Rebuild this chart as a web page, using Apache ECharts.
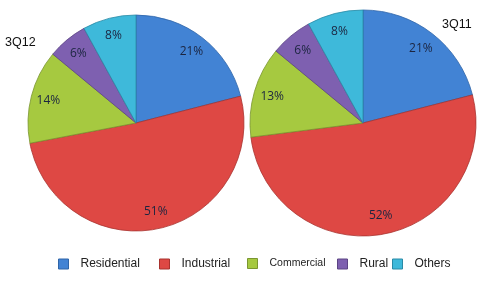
<!DOCTYPE html>
<html><head><meta charset="utf-8">
<script src="https://cdn.jsdelivr.net/npm/echarts@6/dist/echarts.min.js"></script>
<style>html,body{margin:0;padding:0;background:#fff}#c{width:488px;height:284px}</style>
</head><body><div id="c"></div>
<script>
const categories = ['Residential','Industrial','Commercial','Rural','Others'];
const values3Q12 = [21, 51, 14, 6, 8];
const values3Q11 = [21, 52, 13, 6, 8];
const titles = ['3Q12','3Q11'];
const colors = ['#4283d4','#de4844','#a6c940','#7e60b0','#3eb9da'];
const borders = ['#2f65a8','#a8322e','#7a9630','#5c4484','#2a8aa6'];

const chart = echarts.init(document.getElementById('c'), null, {renderer:'canvas'});
function mk(vals){ return vals.map((v,i)=>({name:categories[i], value:v,
  itemStyle:{color:colors[i], borderColor:borders[i], borderWidth:0.8}})); }
function lbl(vals){ return vals.map((v,i)=>({name:categories[i], value:v})); }
const pies = [
  {c:[136,123], r:108, vals:values3Q12},
  {c:[363,123], r:113, vals:values3Q11}
];
const series = [];
pies.forEach(p=>{
  series.push({type:'pie', center:p.c, radius:p.r, startAngle:90, clockwise:true,
    label:{show:false}, labelLine:{show:false}, emphasis:{disabled:true}, silent:true,
    animation:false, data:mk(p.vals)});
  series.push({type:'pie', center:p.c, radius:[p.r*0.62, p.r], startAngle:90, clockwise:true,
    itemStyle:{color:'rgba(0,0,0,0)', borderWidth:0}, legendHoverLink:false,
    label:{show:true, position:'inside', formatter:'{c}%', color:'#1c2540', fontSize:12,
      fontFamily:'Open Sans'}, labelLine:{show:false}, emphasis:{disabled:true}, silent:true,
    animation:false, data:lbl(p.vals)});
});
const legendX = [53, 154, 242, 332, 387];
const legendFont = [12, 12, 10.5, 12, 12];
const legends = categories.map((n,i)=>({
  show:true, left:legendX[i], top:253, icon:'rect', itemWidth:10, itemHeight:10,
  data:[{name:n, itemStyle:{color:colors[i], borderColor:borders[i], borderWidth:1}}],
  selectedMode:false,
  textStyle:{fontSize:legendFont[i], color:'#222', fontFamily:'Liberation Sans', padding:[0,0,0,7]}
}));
chart.setOption({
  backgroundColor:'#fff',
  animation:false,
  color:colors,
  title:[
    {text:titles[0], left:0, top:31, textStyle:{fontSize:12.5, fontWeight:'normal', color:'#111', fontFamily:'Liberation Sans'}},
    {text:titles[1], left:437, top:13, textStyle:{fontSize:12.5, fontWeight:'normal', color:'#111', fontFamily:'Liberation Sans'}}
  ],
  legend:legends,
  series:series
});
</script></body></html>
